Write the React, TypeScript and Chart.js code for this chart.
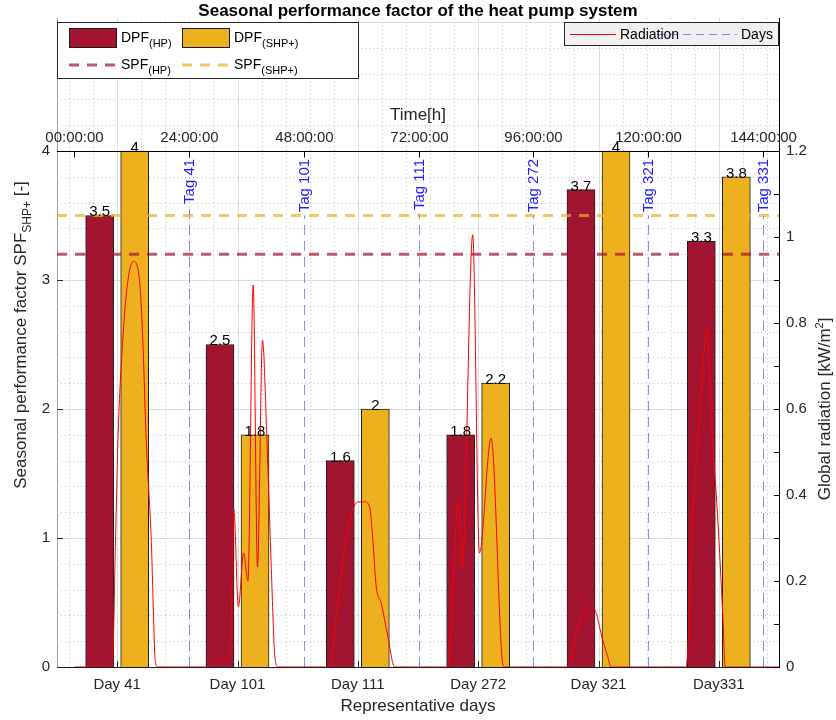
import React, { useEffect, useRef } from 'react';
import { Chart, registerables } from 'chart.js';

Chart.register(...registerables);

const FONT = '"Liberation Sans", Arial, Helvetica, sans-serif';

// ---------- data ----------
const categories = ['Day 41', 'Day 101', 'Day 111', 'Day 272', 'Day 321', 'Day331'];
const dpfHP = [3.5, 2.5, 1.6, 1.8, 3.7, 3.3];
const dpfSHP = [4, 1.8, 2, 2.2, 4, 3.8];
const spfHP = 3.2;
const spfSHP = 3.5;

const dayTags = ['Tag 41', 'Tag 101', 'Tag 111', 'Tag 272', 'Tag 321', 'Tag 331'];
const dayTagHours = [24, 48, 72, 96, 120, 144];

const timeTicks = [0, 24, 48, 72, 96, 120, 144];
const timeTickLabels = ['00:00:00', '24:00:00', '48:00:00', '72:00:00', '96:00:00', '120:00:00', '144:00:00'];

const leftTicks = [0, 1, 2, 3, 4];
const rightTicks = [0, 0.2, 0.4, 0.6, 0.8, 1, 1.2];
const rightMinorTicks = [0.1, 0.3, 0.5, 0.7, 0.9, 1.1];

const radHours = [
  0, 7.9, 8.6, 9.1, 10.1, 11.2, 12.35, 13.6, 14.3, 15.0, 16.05, 16.95, 17.4,
  29.7, 30.7, 31.6, 32.6, 33.35, 34.3, 35.4, 36.3, 37.4, 38.3, 39.35, 40.25, 41.2, 41.9, 42.6,
  53.4, 55.1, 56.9, 58.25, 59.3, 60.7, 61.75, 62.4, 63.15, 64.2, 65.6, 67.0,
  78.1, 80.4, 81.15, 83.35, 84.75, 87.2, 89.6, 90.0,
  103.6, 105.0, 108.1, 109.2, 110.2, 111.6, 112.3,
  128.0, 129.4, 130.8, 132.4, 133.25, 134.6, 135.7, 136.2, 147.4,
];
const radValues = [
  0, 0, 0.3, 0.53, 0.76, 0.9, 0.943, 0.9, 0.76, 0.53, 0.3, 0.01, 0,
  0, 0.028, 0.02, 0.04, 0.365, 0.14, 0.265, 0.2, 0.888, 0.233, 0.76, 0.536, 0.226, 0.03, 0,
  0, 0.148, 0.303, 0.365, 0.384, 0.384, 0.373, 0.303, 0.187, 0.148, 0.07, 0,
  0, 0.388, 0.233, 1.005, 0.265, 0.532, 0.01, 0,
  0, 0.078, 0.142, 0.125, 0.078, 0.024, 0,
  0, 0.35, 0.58, 0.784, 0.58, 0.35, 0.117, 0, 0,
];

// ---------- axis ranges / layout ----------
const Y_MAX = 5.031;
const Y2_MAX = 1.509;
const T_MIN = -3.66;
const T_MAX = 147.45;
const GROUP_SHIFT = 0.1455; // half of the pair spacing, in category units
const BAR_THICKNESS = 28;

const HP_COLOR = 'rgb(162,20,47)';
const SHP_COLOR = 'rgb(237,177,32)';
const HP_DASH = 'rgba(162,20,47,0.7)';
const SHP_DASH = 'rgba(237,177,32,0.7)';
const DAY_COLOR = 'rgba(0,0,255,0.45)';
const AX = '#262626';

function f(size: number, bold = false) {
  return `${bold ? 'bold ' : ''}${size}px ${FONT}`;
}

function subText(ctx: CanvasRenderingContext2D, x: number, y: number, main: string, sub: string, size: number, subSize: number) {
  ctx.font = f(size);
  ctx.fillText(main, x, y);
  const w = ctx.measureText(main).width;
  ctx.font = f(subSize);
  ctx.fillText(sub, x + w, y + 5);
}

const customPlugin = {
  id: 'customDraw',
  beforeDatasetsDraw(chart: any) {
    const { ctx, chartArea: ca, scales } = chart;
    const x = scales.x, y = scales.y, xt = scales.xt, y2 = scales.y2;
    ctx.save();
    ctx.beginPath();
    ctx.rect(ca.left, ca.top, ca.right - ca.left, ca.bottom - ca.top);
    ctx.clip();
    // minor grid (dotted)
    ctx.strokeStyle = '#c4c4c4';
    ctx.lineWidth = 1;
    ctx.setLineDash([1, 3]);
    for (let k = 1; k * 0.2 < Y_MAX; k++) {
      if (k % 5 === 0) continue;
      const py = Math.round(y.getPixelForValue(k * 0.2)) + 0.5;
      ctx.beginPath(); ctx.moveTo(ca.left, py); ctx.lineTo(ca.right, py); ctx.stroke();
    }
    for (let k = -2; k <= 27; k++) {
      if (k % 5 === 0) continue;
      const px = Math.round(x.getPixelForValue(k * 0.2)) + 0.5;
      if (px < ca.left || px > ca.right) continue;
      ctx.beginPath(); ctx.moveTo(px, ca.top); ctx.lineTo(px, ca.bottom); ctx.stroke();
    }
    // major grid
    ctx.setLineDash([]);
    ctx.strokeStyle = '#dedede';
    for (let v = 1; v <= Math.floor(Y_MAX); v++) {
      const py = Math.round(y.getPixelForValue(v)) + 0.5;
      ctx.beginPath(); ctx.moveTo(ca.left, py); ctx.lineTo(ca.right, py); ctx.stroke();
    }
    for (let i = 0; i < categories.length; i++) {
      const px = Math.round(x.getPixelForValue(i)) + 0.5;
      ctx.beginPath(); ctx.moveTo(px, ca.top); ctx.lineTo(px, ca.bottom); ctx.stroke();
    }
    // day lines with labels
    const topY = y2.getPixelForValue(1.2);
    ctx.font = f(15);
    for (let i = 0; i < dayTags.length; i++) {
      const px = Math.round(xt.getPixelForValue(dayTagHours[i])) + 0.5;
      const tw = ctx.measureText(dayTags[i]).width;
      const labelTop = topY + 8;
      const labelBottom = labelTop + tw;
      ctx.strokeStyle = DAY_COLOR;
      ctx.setLineDash([10, 6]);
      ctx.beginPath(); ctx.moveTo(px, ca.bottom); ctx.lineTo(px, labelBottom + 3); ctx.stroke();
      ctx.setLineDash([]);
      ctx.save();
      ctx.translate(px, labelTop + tw / 2);
      ctx.rotate(-Math.PI / 2);
      ctx.fillStyle = 'rgb(30,30,255)';
      ctx.textAlign = 'center';
      ctx.textBaseline = 'middle';
      ctx.fillText(dayTags[i], 0, 0);
      ctx.restore();
    }
    ctx.restore();
  },
  afterDatasetsDraw(chart: any) {
    const { ctx, chartArea: ca, scales } = chart;
    const x = scales.x, y = scales.y, xt = scales.xt, y2 = scales.y2;
    ctx.save();
    // bar value labels
    ctx.fillStyle = '#000';
    ctx.font = f(15);
    ctx.textAlign = 'center';
    ctx.textBaseline = 'alphabetic';
    [dpfHP, dpfSHP].forEach((vals, di) => {
      const meta = chart.getDatasetMeta(di);
      meta.data.forEach((el: any, j: number) => {
        ctx.fillText(String(vals[j]), el.x, el.y + 1);
      });
    });

    // inward ticks: left, bottom, right
    ctx.lineWidth = 1;
    ctx.strokeStyle = AX;
    leftTicks.forEach((v) => {
      const py = Math.round(y.getPixelForValue(v)) + 0.5;
      ctx.beginPath(); ctx.moveTo(ca.left, py); ctx.lineTo(ca.left + 6, py); ctx.stroke();
    });
    categories.forEach((_, i) => {
      const px = Math.round(x.getPixelForValue(i)) + 0.5;
      ctx.beginPath(); ctx.moveTo(px, ca.bottom); ctx.lineTo(px, ca.bottom - 6); ctx.stroke();
    });
    ctx.strokeStyle = '#000';
    rightTicks.concat(rightMinorTicks).forEach((v) => {
      const py = Math.round(y2.getPixelForValue(v)) + 0.5;
      ctx.beginPath(); ctx.moveTo(ca.right, py); ctx.lineTo(ca.right - 5, py); ctx.stroke();
    });

    // top time axis
    const topY = Math.round(y2.getPixelForValue(1.2)) + 0.5;
    ctx.beginPath(); ctx.moveTo(ca.left, topY); ctx.lineTo(ca.right, topY); ctx.stroke();
    ctx.fillStyle = AX;
    ctx.font = f(15);
    ctx.textAlign = 'center';
    timeTicks.forEach((h, i) => {
      const px = Math.round(xt.getPixelForValue(h)) + 0.5;
      ctx.beginPath(); ctx.moveTo(px, topY); ctx.lineTo(px, topY + 6); ctx.stroke();
      ctx.fillText(timeTickLabels[i], px, topY - 10);
    });
    ctx.font = f(17);
    ctx.fillText('Time[h]', (ca.left + ca.right) / 2, topY - 32);

    // bottom title
    ctx.fillText('Representative days', (ca.left + ca.right) / 2, 711);

    // left title (rotated, with subscript)
    ctx.save();
    ctx.translate(26, 335);
    ctx.rotate(-Math.PI / 2);
    ctx.textAlign = 'left';
    const t1 = 'Seasonal performance factor SPF';
    const t2 = 'SHP+';
    const t3 = ' [-]';
    ctx.font = f(17); const w1 = ctx.measureText(t1).width; const w3 = ctx.measureText(t3).width;
    ctx.font = f(12); const w2 = ctx.measureText(t2).width;
    let sx = -(w1 + w2 + w3) / 2;
    ctx.font = f(17); ctx.fillText(t1, sx, 0); sx += w1;
    ctx.font = f(12); ctx.fillText(t2, sx, 5); sx += w2;
    ctx.font = f(17); ctx.fillText(t3, sx, 0);
    ctx.restore();

    // right title
    ctx.save();
    ctx.translate(830, (y2.getPixelForValue(0) + y2.getPixelForValue(1.2)) / 2);
    ctx.rotate(-Math.PI / 2);
    ctx.textAlign = 'left';
    const r1 = 'Global radiation [kW/m';
    const r2 = '2';
    const r3 = ']';
    ctx.font = f(17); const q1 = ctx.measureText(r1).width; const q3 = ctx.measureText(r3).width;
    ctx.font = f(11); const q2 = ctx.measureText(r2).width;
    let rx = -(q1 + q2 + q3) / 2;
    ctx.font = f(17); ctx.fillText(r1, rx, 0); rx += q1;
    ctx.font = f(11); ctx.fillText(r2, rx, -7); rx += q2;
    ctx.font = f(17); ctx.fillText(r3, rx, 0);
    ctx.restore();

    // title
    ctx.fillStyle = '#000';
    ctx.font = f(17, true);
    ctx.textAlign = 'center';
    ctx.fillText('Seasonal performance factor of the heat pump system', (ca.left + ca.right) / 2, 16);

    // left legend
    ctx.fillStyle = '#fff';
    ctx.fillRect(57, 22, 301, 56);
    ctx.strokeStyle = AX;
    ctx.strokeRect(57.5, 22.5, 301, 56);
    ctx.fillStyle = HP_COLOR; ctx.fillRect(69, 28, 48, 20);
    ctx.strokeStyle = '#1a1a1a'; ctx.strokeRect(69.5, 28.5, 47, 19);
    ctx.fillStyle = SHP_COLOR; ctx.fillRect(182, 28, 48, 20);
    ctx.strokeRect(182.5, 28.5, 47, 19);
    ctx.lineWidth = 3;
    ctx.setLineDash([10, 8]);
    ctx.strokeStyle = HP_DASH;
    ctx.beginPath(); ctx.moveTo(69, 65); ctx.lineTo(117, 65); ctx.stroke();
    ctx.strokeStyle = SHP_DASH;
    ctx.beginPath(); ctx.moveTo(182, 65); ctx.lineTo(230, 65); ctx.stroke();
    ctx.setLineDash([]);
    ctx.lineWidth = 1;
    ctx.fillStyle = '#000';
    ctx.textAlign = 'left';
    subText(ctx, 121, 42, 'DPF', '(HP)', 14, 11);
    subText(ctx, 234, 42, 'DPF', '(SHP+)', 14, 11);
    subText(ctx, 121, 69, 'SPF', '(HP)', 14, 11);
    subText(ctx, 234, 69, 'SPF', '(SHP+)', 14, 11);

    // right legend
    ctx.fillStyle = '#f0f0f0';
    ctx.fillRect(564, 22, 215, 23);
    ctx.strokeStyle = AX;
    ctx.strokeRect(564.5, 22.5, 214, 23);
    ctx.strokeStyle = 'red';
    ctx.beginPath(); ctx.moveTo(570, 34.5); ctx.lineTo(616, 34.5); ctx.stroke();
    ctx.strokeStyle = DAY_COLOR;
    ctx.setLineDash([8, 5]);
    ctx.beginPath(); ctx.moveTo(657, 34.5); ctx.lineTo(737, 34.5); ctx.stroke();
    ctx.setLineDash([]);
    ctx.fillStyle = '#000';
    ctx.font = f(14);
    ctx.fillText('Radiation', 620, 39);
    ctx.fillText('Days', 741, 39);

    ctx.restore();
  },
};

export default function App() {
  const ref = useRef<HTMLCanvasElement | null>(null);
  useEffect(() => {
    if (!ref.current) return;
    const barCommon = {
      type: 'bar',
      borderColor: '#1f1f1f',
      borderWidth: 1,
      barThickness: BAR_THICKNESS,
      grouped: false,
      yAxisID: 'y',
      order: 2,
    };
    const chart = new Chart(ref.current, {
      type: 'bar',
      data: {
        labels: categories,
        datasets: [
          {
            ...barCommon,
            label: 'DPF(HP)',
            data: categories.map((_, i) => ({ x: i, y: dpfHP[i] })),
            backgroundColor: HP_COLOR,
            xAxisID: 'xhp',
          },
          {
            ...barCommon,
            label: 'DPF(SHP+)',
            data: categories.map((_, i) => ({ x: i, y: dpfSHP[i] })),
            backgroundColor: SHP_COLOR,
            xAxisID: 'xshp',
          },
          {
            type: 'line',
            label: 'SPF(HP)',
            data: [{ x: T_MIN, y: spfHP }, { x: T_MAX, y: spfHP }],
            borderColor: HP_DASH,
            borderWidth: 3,
            borderDash: [10, 8],
            pointRadius: 0,
            xAxisID: 'xt',
            yAxisID: 'y',
            order: 1,
          },
          {
            type: 'line',
            label: 'SPF(SHP+)',
            data: [{ x: T_MIN, y: spfSHP }, { x: T_MAX, y: spfSHP }],
            borderColor: SHP_DASH,
            borderWidth: 3,
            borderDash: [10, 8],
            pointRadius: 0,
            xAxisID: 'xt',
            yAxisID: 'y',
            order: 1,
          },
          {
            type: 'line',
            label: 'Radiation',
            data: radHours.map((h, i) => ({ x: h, y: radValues[i] })),
            borderColor: 'red',
            borderWidth: 1,
            pointRadius: 0,
            cubicInterpolationMode: 'monotone',
            xAxisID: 'xt',
            yAxisID: 'y2',
            order: 0,
          },
        ] as any,
      },
      options: {
        responsive: false,
        animation: false,
        events: [],
        layout: { padding: { top: 18, left: 0, right: 0, bottom: 0 } },
        plugins: { legend: { display: false }, tooltip: { enabled: false }, title: { display: false } },
        scales: {
          x: {
            type: 'category',
            position: 'bottom',
            offset: true,
            afterFit: (s: any) => { s.height = 53; },
            ticks: {
              font: { family: FONT, size: 15 },
              color: AX,
              padding: 9,
              maxRotation: 0,
              autoSkip: false,
            },
            grid: { display: false, drawTicks: false, offset: true },
            border: { display: true, color: '#1a1a1a', width: 1 },
          },
          xhp: {
            type: 'linear',
            display: false,
            offset: false,
            min: -0.5 + GROUP_SHIFT,
            max: categories.length - 0.5 + GROUP_SHIFT,
          },
          xshp: {
            type: 'linear',
            display: false,
            offset: false,
            min: -0.5 - GROUP_SHIFT,
            max: categories.length - 0.5 - GROUP_SHIFT,
          },
          xt: {
            type: 'linear',
            display: false,
            min: T_MIN,
            max: T_MAX,
            offset: false,
          },
          y: {
            type: 'linear',
            position: 'left',
            min: 0,
            max: Y_MAX,
            afterBuildTicks: (s: any) => { s.ticks = leftTicks.map((v) => ({ value: v })); },
            afterFit: (s: any) => { s.width = 57; },
            ticks: { font: { family: FONT, size: 15 }, color: AX, padding: 7, callback: (v: any) => String(v) },
            grid: { display: false, drawTicks: false },
            border: { display: true, color: '#a0a0a0', width: 1 },
          },
          y2: {
            type: 'linear',
            position: 'right',
            min: 0,
            max: Y2_MAX,
            afterBuildTicks: (s: any) => { s.ticks = rightTicks.map((v) => ({ value: v })); },
            afterFit: (s: any) => { s.width = 57; },
            ticks: {
              font: { family: FONT, size: 15 },
              color: AX,
              padding: 7,
              callback: (v: any) => String(Number(Number(v).toFixed(1))),
            },
            grid: { display: false, drawTicks: false },
            border: { display: true, color: '#000', width: 1 },
          },
        },
      } as any,
      plugins: [customPlugin],
    });
    return () => chart.destroy();
  }, []);
  return (
    <div style={{ position: 'absolute', left: 0, top: 0, width: 836, height: 720, background: '#fff' }}>
      <canvas ref={ref} width={836} height={720} style={{ width: 836, height: 720, display: 'block' }} />
    </div>
  );
}
